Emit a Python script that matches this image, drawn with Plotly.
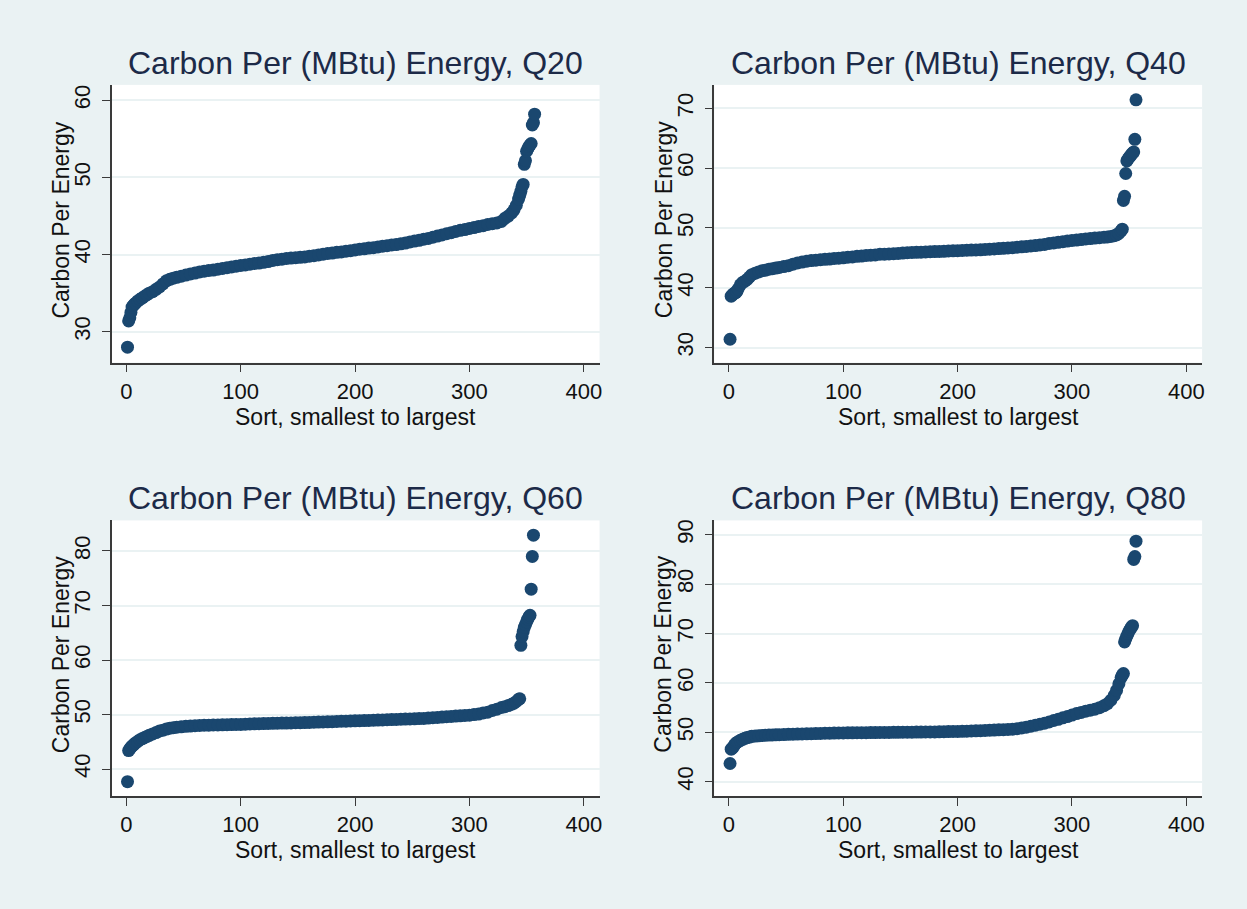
import plotly.graph_objects as go

FONT = "Liberation Sans, Arial, sans-serif"
NAVY = "#1A476F"
BG = "#EAF2F3"
TITLE_COLOR = "#1c2a48"
AXIS_COLOR = "#3a3a3a"
TEXT_COLOR = "#111111"

panel_titles = ["Carbon Per (MBtu) Energy, Q20", "Carbon Per (MBtu) Energy, Q40",
                "Carbon Per (MBtu) Energy, Q60", "Carbon Per (MBtu) Energy, Q80"]
x_title = "Sort, smallest to largest"
y_title = "Carbon Per Energy"
x_ticks = [0, 100, 200, 300, 400]
y_ticks = [[30, 40, 50, 60], [30, 40, 50, 60, 70], [40, 50, 60, 70, 80],
           [40, 50, 60, 70, 80, 90]]

# sort ranks (x) shared by the body of every curve
body_ranks = [1, 2, 3, 4, 5, 6, 7, 8, 10, 12, 14, 16, 18, 20, 23, 26, 29, 32, 35, 38, 41, 44,
              48, 52, 56, 60, 64, 68, 72, 76, 80, 84, 88, 92, 96, 100,
              104, 108, 112, 116, 120, 124, 128, 132, 136, 140,
              144, 148, 152, 156, 160, 164, 168, 172, 176, 180,
              184, 188, 192, 196, 200, 204, 208, 212, 216, 220,
              224, 228, 232, 236, 240, 244, 248, 252, 256, 260,
              264, 268, 272, 276, 280, 284, 288, 292, 296, 300,
              304, 308, 312, 316, 320, 324, 328]
tail_ranks_q20 = [331, 334, 337, 339, 341, 343, 344, 345, 346, 347, 348, 349, 350, 351, 352,
                  353, 354, 355, 356, 357]
tail_ranks = [331, 334, 337, 339, 341, 343, 344, 345, 346, 347, 348, 349, 350, 351, 352,
              353, 354, 355, 356]

q20_body = [28.0, 31.4, 31.8, 32.5, 33.2, 33.4, 33.55, 33.7,
            34.0, 34.2, 34.4, 34.6, 34.8, 35.0,
            35.2, 35.5, 35.8, 36.2, 36.6, 36.8, 36.95, 37.05,
            37.2, 37.35, 37.5, 37.6, 37.75, 37.85, 37.95, 38.0, 38.1, 38.2, 38.3, 38.4, 38.5, 38.6,
            38.65, 38.75, 38.85, 38.9, 39.0, 39.1, 39.25, 39.35, 39.4, 39.5,
            39.55, 39.6, 39.65, 39.7, 39.8, 39.85, 39.95, 40.05, 40.15, 40.2,
            40.3, 40.35, 40.45, 40.5, 40.6, 40.7, 40.75, 40.85, 40.9, 41.0,
            41.1, 41.15, 41.25, 41.3, 41.4, 41.5, 41.65, 41.75, 41.85, 42.0,
            42.1, 42.25, 42.4, 42.55, 42.7, 42.85, 43.0, 43.15, 43.25, 43.4,
            43.5, 43.65, 43.75, 43.9, 44.0, 44.1, 44.3]
q20_tail = [44.7, 45.0, 45.4, 45.8, 46.4, 47.2, 47.7, 48.2, 48.8, 49.1, 51.7, 52.2, 53.4, 53.7,
            54.0, 54.2, 54.4, 56.8, 57.1, 58.2]

q40_body = [31.4, 38.6, 38.8, 39.0, 39.1, 39.2, 39.4, 39.8,
            40.5, 40.9, 41.1, 41.4, 41.8, 42.2,
            42.45, 42.65, 42.85, 42.95, 43.1, 43.2, 43.3, 43.4,
            43.55, 43.7, 43.95, 44.15, 44.3, 44.45, 44.55, 44.6, 44.7, 44.75, 44.8, 44.9, 44.95, 45.0,
            45.1, 45.15, 45.25, 45.3, 45.4, 45.45, 45.5, 45.6, 45.62, 45.65,
            45.7, 45.75, 45.8, 45.85, 45.9, 45.92, 45.95, 46.0, 46.02, 46.05,
            46.08, 46.1, 46.15, 46.18, 46.2, 46.25, 46.28, 46.3, 46.32, 46.35,
            46.4, 46.45, 46.5, 46.55, 46.6, 46.65, 46.7, 46.78, 46.85, 46.9,
            46.98, 47.05, 47.15, 47.25, 47.4, 47.5, 47.6, 47.7, 47.8, 47.9,
            47.98, 48.05, 48.15, 48.22, 48.3, 48.38, 48.45]
q40_tail = [48.5, 48.58, 48.7, 48.85, 49.1, 49.5, 49.8, 54.6, 55.3, 59.1, 61.2, 61.5, 61.8, 62.0,
            62.3, 62.5, 62.7, 64.8, 71.4]

q60_body = [37.7, 43.4, 43.7, 44.0, 44.2, 44.4, 44.6, 44.8,
            45.1, 45.4, 45.6, 45.8, 46.0, 46.2,
            46.45, 46.7, 47.0, 47.15, 47.35, 47.5, 47.6, 47.7,
            47.75, 47.85, 47.9, 47.95, 48.0, 48.05, 48.05, 48.1, 48.1, 48.12, 48.15, 48.17, 48.2, 48.2,
            48.25, 48.28, 48.3, 48.33, 48.35, 48.37, 48.4, 48.42, 48.44, 48.45,
            48.48, 48.5, 48.52, 48.54, 48.55, 48.6, 48.63, 48.65, 48.68, 48.7,
            48.75, 48.78, 48.8, 48.83, 48.85, 48.87, 48.9, 48.93, 48.97, 49.0,
            49.02, 49.05, 49.08, 49.12, 49.15, 49.18, 49.2, 49.22, 49.27, 49.3,
            49.36, 49.42, 49.48, 49.54, 49.6, 49.66, 49.72, 49.78, 49.84, 49.9,
            50.0, 50.1, 50.3, 50.45, 50.75, 51.0, 51.3]
q60_tail = [51.45, 51.65, 51.9, 52.1, 52.4, 52.8, 52.9, 62.7, 64.3, 65.2, 66.0, 66.5, 67.0, 67.5,
            67.9, 68.2, 73.0, 79.0, 82.9]

q80_body = [43.7, 46.6, 46.8, 47.1, 47.5, 47.8, 47.95, 48.1,
            48.4, 48.6, 48.8, 48.95, 49.05, 49.2,
            49.25, 49.3, 49.38, 49.42, 49.45, 49.48, 49.5, 49.53,
            49.56, 49.6, 49.62, 49.65, 49.67, 49.7, 49.72, 49.76, 49.8, 49.82, 49.84, 49.86, 49.88, 49.9,
            49.91, 49.92, 49.93, 49.94, 49.95, 49.96, 49.97, 49.98, 49.99, 50.0,
            50.01, 50.02, 50.03, 50.04, 50.05, 50.06, 50.07, 50.08, 50.09, 50.1,
            50.12, 50.14, 50.16, 50.18, 50.2, 50.22, 50.24, 50.28, 50.32, 50.35,
            50.39, 50.43, 50.47, 50.51, 50.55, 50.6, 50.65, 50.75, 50.9, 51.05,
            51.25, 51.45, 51.65, 51.85, 52.1, 52.4, 52.65, 52.95, 53.2, 53.5,
            53.8, 54.05, 54.3, 54.5, 54.7, 55.0, 55.4]
q80_tail = [55.8, 56.5, 57.5, 58.5, 59.8, 61.1, 61.6, 61.9, 68.3, 68.9, 69.5, 70.0, 70.5, 70.9,
            71.3, 71.6, 85.0, 85.6, 88.7]

series = [
    (body_ranks + tail_ranks_q20, q20_body + q20_tail),
    (body_ranks + tail_ranks, q40_body + q40_tail),
    (body_ranks + tail_ranks, q60_body + q60_tail),
    (body_ranks + tail_ranks, q80_body + q80_tail),
]
for xs, ys in series:
    assert len(xs) == len(ys), (len(xs), len(ys))

y_ranges = [[26.0, 62.0], [27.5, 73.9], [35.05, 85.6], [37.1, 92.9]]
x_range = [-12.8, 413.8]

W, H = 1247, 909
# plot boxes in pixels: (left, right, top, bottom)
boxes = [(112, 601, 84, 362), (716, 1205, 84, 362), (112, 601, 520, 796), (716, 1205, 520, 796)]

fig = go.Figure()
annotations = []
layout = {}
for i, ((rk, vals), box) in enumerate(zip(series, boxes)):
    n = "" if i == 0 else str(i + 1)
    L, R, T, B = box
    fig.add_trace(go.Scatter(x=rk, y=vals, mode="markers", xaxis="x" + n, yaxis="y" + n,
                             marker=dict(color=NAVY, size=13, line=dict(width=0)),
                             showlegend=False, hoverinfo="x+y"))
    common = dict(zeroline=False, showline=True, linecolor=AXIS_COLOR, linewidth=1.5,
                  ticks="outside", ticklen=8, tickcolor=AXIS_COLOR, tickwidth=1.3,
                  tickfont=dict(family=FONT, size=22, color=TEXT_COLOR))
    layout["xaxis" + n] = dict(
        domain=[L / W, R / W], anchor="y" + n, range=x_range,
        tickvals=x_ticks, ticktext=[str(t) for t in x_ticks], showgrid=False, **common)
    layout["yaxis" + n] = dict(
        domain=[1 - B / H, 1 - T / H], anchor="x" + n, range=y_ranges[i],
        tickvals=y_ticks[i], ticktext=[str(t) for t in y_ticks[i]], tickangle=-90,
        ticklabelstandoff=3,
        showgrid=True, gridcolor=BG, gridwidth=2, **common)
    cx = (L + R) / 2 / W
    annotations.append(dict(text=panel_titles[i], x=cx, y=1 - (T - 22) / H, xref="paper",
                            yref="paper", xanchor="center", yanchor="middle", showarrow=False,
                            font=dict(family=FONT, size=32, color=TITLE_COLOR)))
    annotations.append(dict(text=x_title, x=cx, y=1 - (B + 54) / H, xref="paper",
                            yref="paper", xanchor="center", yanchor="middle", showarrow=False,
                            font=dict(family=FONT, size=23, color=TEXT_COLOR)))
    annotations.append(dict(text=y_title, x=(L - 51) / W, y=1 - ((T + B) / 2 - 4) / H,
                            xref="paper", yref="paper", xanchor="center", yanchor="middle",
                            showarrow=False, textangle=-90,
                            font=dict(family=FONT, size=23, color=TEXT_COLOR)))

fig.update_layout(width=W, height=H, margin=dict(l=0, r=0, t=0, b=0),
                  paper_bgcolor=BG, plot_bgcolor="white", annotations=annotations, **layout)
fig.write_html("out.html", config={"displayModeBar": False},
               post_script="document.body.style.margin='0px';")
